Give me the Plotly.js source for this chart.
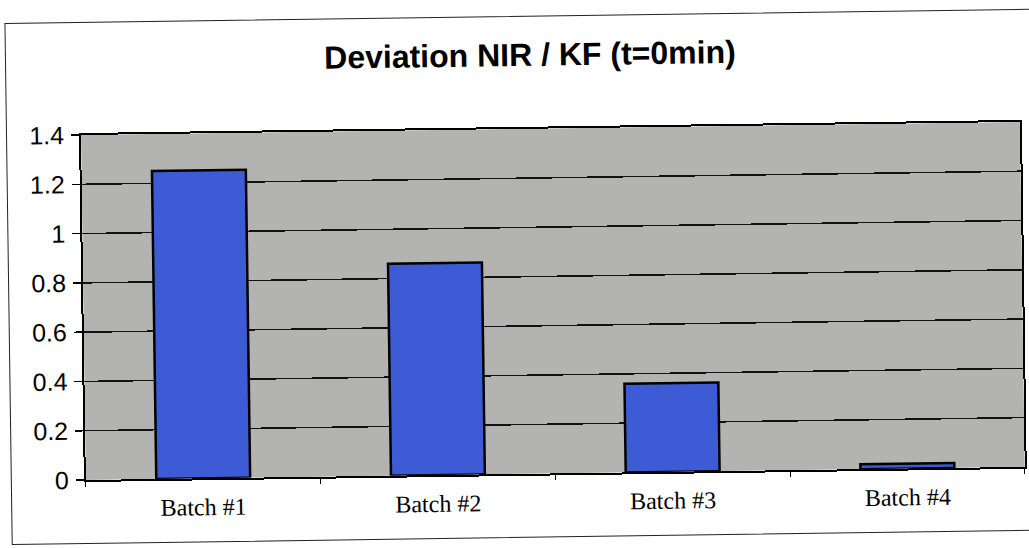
<!DOCTYPE html>
<html>
<head>
<meta charset="utf-8">
<script src="https://cdn.plot.ly/plotly-3.0.1.min.js"></script>
<style>
  html, body { margin: 0; padding: 0; background: #ffffff; overflow: hidden; }
  #wrap { position: relative; width: 1029px; height: 548px; transform: rotate(-0.8deg); transform-origin: 514px 274px; }
  #frame { position: absolute; left: 8px; top: 16px; width: 1060px; height: 522px; border: 1.5px solid #222; box-sizing: border-box; }
  #chart { position: absolute; left: 0; top: 0; width: 1029px; height: 548px; }
</style>
</head>
<body>
<div id="wrap">
  <div id="frame"></div>
  <div id="chart"></div>
</div>
<script>
// Deviation between NIR and KF readings at t = 0 min, per batch
const batches = ['Batch #1', 'Batch #2', 'Batch #3', 'Batch #4'];
const deviation = [1.25, 0.86, 0.36, 0.02];
const yTicks = [0, 0.2, 0.4, 0.6, 0.8, 1, 1.2, 1.4];
const yTickText = ['0', '0.2', '0.4', '0.6', '0.8', '1', '1.2', '1.4'];

const trace = {
  type: 'bar',
  x: batches,
  y: deviation,
  marker: { color: '#3d5bd4', line: { color: '#000000', width: 2.5 } },
  hoverinfo: 'x+y'
};

const layout = {
  width: 1029,
  height: 548,
  paper_bgcolor: 'rgba(0,0,0,0)',
  plot_bgcolor: '#b3b3b2',
  margin: { l: 83, r: 7, t: 129, b: 74 },
  bargap: 0.6,
  showlegend: false,
  title: {
    text: '<b>Deviation NIR / KF (t=0min)</b>',
    font: { family: 'Liberation Sans, Arial, sans-serif', size: 32, color: '#000' },
    x: 0.518, xanchor: 'center',
    y: 0.9, yanchor: 'middle'
  },
  xaxis: {
    type: 'category',
    showgrid: false,
    showline: true, linecolor: '#000', linewidth: 2,
    mirror: true,
    ticks: 'outside', tickson: 'boundaries', ticklen: 5, tickcolor: '#000', tickwidth: 1,
    ticklabelstandoff: 6,
    tickfont: { family: 'Liberation Serif, Times New Roman, serif', size: 24, color: '#000' },
    fixedrange: true
  },
  yaxis: {
    range: [0, 1.4],
    tickvals: yTicks,
    ticktext: yTickText,
    showgrid: true, gridcolor: '#111', gridwidth: 1.5,
    zeroline: false,
    showline: true, linecolor: '#000', linewidth: 2,
    mirror: true,
    ticks: 'outside', ticklen: 8, tickcolor: '#000', tickwidth: 1.5,
    ticklabelstandoff: 2,
    tickfont: { family: 'Liberation Sans, Arial, sans-serif', size: 25, color: '#000' },
    fixedrange: true
  }
};

Plotly.newPlot('chart', [trace], layout, { displayModeBar: false, staticPlot: true });
</script>
</body>
</html>
